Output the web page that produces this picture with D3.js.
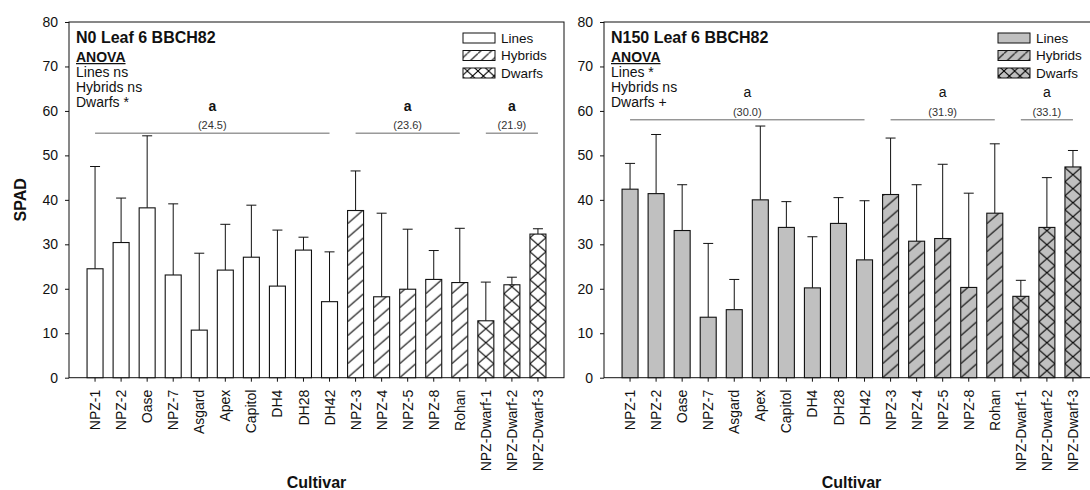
<!DOCTYPE html>
<html>
<head>
<meta charset="utf-8">
<script src="https://cdn.jsdelivr.net/npm/d3@7"></script>
<style>
  body { margin: 0; background: #fff; }
  svg { display: block; font-family: Arial, "Liberation Sans", sans-serif; }
</style>
</head>
<body>
<svg id="chart" width="1090" height="490"></svg>
<script>
// ---- data ----
const cultivars = ['NPZ-1', 'NPZ-2', 'Oase', 'NPZ-7', 'Asgard', 'Apex', 'Capitol', 'DH4', 'DH28', 'DH42',
                   'NPZ-3', 'NPZ-4', 'NPZ-5', 'NPZ-8', 'Rohan',
                   'NPZ-Dwarf-1', 'NPZ-Dwarf-2', 'NPZ-Dwarf-3'];
const cultivarType = ['Lines', 'Lines', 'Lines', 'Lines', 'Lines', 'Lines', 'Lines', 'Lines', 'Lines', 'Lines',
                      'Hybrids', 'Hybrids', 'Hybrids', 'Hybrids', 'Hybrids',
                      'Dwarfs', 'Dwarfs', 'Dwarfs'];
const groupNames = ['Lines', 'Hybrids', 'Dwarfs'];

// SPAD means and standard deviations, N0
const n0Mean = [24.5, 30.4, 38.2, 23.1, 10.7, 24.2, 27.1, 20.6, 28.7, 17.1,
                37.6, 18.2, 19.9, 22.1, 21.4,
                12.8, 20.9, 32.3];
const n0SD   = [23.0, 10.0, 16.2, 16.0, 17.3, 10.3, 11.7, 12.6, 2.9, 11.2,
                8.9, 18.8, 13.5, 6.5, 12.2,
                8.7, 1.7, 1.2];

// SPAD means and standard deviations, N150
const n150Mean = [42.4, 41.4, 33.1, 13.6, 15.3, 40.0, 33.8, 20.2, 34.7, 26.5,
                  41.2, 30.7, 31.3, 20.3, 37.0,
                  18.3, 33.8, 47.4];
const n150SD   = [5.8, 13.3, 10.3, 16.6, 6.8, 16.6, 5.8, 11.5, 5.8, 13.3,
                  12.7, 12.7, 16.7, 21.2, 15.6,
                  3.6, 11.2, 3.7];

const n0GroupMeans   = ['(24.5)', '(23.6)', '(21.9)'];
const n150GroupMeans = ['(30.0)', '(31.9)', '(33.1)'];
const n0Letters   = ['a', 'a', 'a'];
const n150Letters = ['a', 'a', 'a'];
const n0Anova   = ['Lines ns', 'Hybrids ns', 'Dwarfs *'];
const n150Anova = ['Lines *', 'Hybrids ns', 'Dwarfs +'];
const yTicks = [0, 10, 20, 30, 40, 50, 60, 70, 80];

// ---- layout ----
const W = 495, TOP = 22, H = 355.7;
const svg = d3.select('#chart');
const defs = svg.append('defs');

const panels = [
  { x0: 69,  title: 'N0 Leaf 6 BBCH82',   means: n0Mean,   sd: n0SD,   groupMeans: n0GroupMeans,
    letters: n0Letters, anova: n0Anova, fill: '#ffffff', letterWeight: 'bold', sigLine: 55.0, yTitle: true },
  { x0: 604, title: 'N150 Leaf 6 BBCH82', means: n150Mean, sd: n150SD, groupMeans: n150GroupMeans,
    letters: n150Letters, anova: n150Anova, fill: '#c0c0c0', letterWeight: 'normal', sigLine: 58.0, yTitle: false }
];

// hatch tile: one diagonal per tile width ("/"), two for the cross-hatch
function makePattern(id, x, y, w, h, fill, type) {
  const p = defs.append('pattern')
    .attr('id', id)
    .attr('patternUnits', 'userSpaceOnUse')
    .attr('x', x).attr('y', y)
    .attr('width', w).attr('height', h);
  p.append('rect').attr('width', w).attr('height', h).attr('fill', fill);
  let d = '';
  if (type === 'Hybrids' || type === 'Dwarfs') d += `M0,${h} L${w},0`;
  if (type === 'Dwarfs') d += ` M0,0 L${w},${h}`;
  if (d) p.append('path').attr('d', d).attr('stroke', '#000').attr('stroke-width', 1.05).attr('fill', 'none');
  return `url(#${id})`;
}

panels.forEach((pn, pi) => {
  const g = svg.append('g').attr('transform', `translate(${pn.x0},${TOP})`);

  const x = d3.scaleBand().domain(cultivars).range([0, W])
    .paddingInner(0.386).paddingOuter(0.693);
  const y = d3.scaleLinear().domain([0, 80]).range([H, 0]);
  const bw = x.bandwidth();

  // frame
  g.append('rect').attr('x', 0).attr('y', 0).attr('width', W).attr('height', H)
    .attr('fill', 'none').attr('stroke', '#111').attr('stroke-width', 1);

  // y axis
  const ya = g.append('g').call(d3.axisLeft(y).tickValues(yTicks).tickSize(4).tickSizeOuter(0).tickPadding(7));
  ya.select('.domain').remove();
  ya.selectAll('line').attr('stroke', '#111');
  ya.selectAll('text').attr('font-size', 14).attr('fill', '#111')
    .attr('font-family', 'Arial, "Liberation Sans", sans-serif');

  // x axis with vertical cultivar names
  const xa = g.append('g').attr('transform', `translate(0,${H})`)
    .call(d3.axisBottom(x).tickSize(4).tickSizeOuter(0).tickPadding(0));
  xa.select('.domain').remove();
  xa.selectAll('line').attr('stroke', '#111');
  xa.selectAll('text')
    .attr('font-size', 14).attr('fill', '#111')
    .attr('font-family', 'Arial, "Liberation Sans", sans-serif')
    .attr('text-anchor', 'end')
    .attr('transform', 'rotate(-90)')
    .attr('x', -12).attr('y', 0).attr('dy', '0.36em');

  // error bars (upper only)
  const err = g.append('g').attr('stroke', '#111').attr('stroke-width', 1);
  cultivars.forEach((c, i) => {
    const cx = x(c) + bw / 2;
    const top = y(pn.means[i] + pn.sd[i]);
    err.append('line').attr('x1', cx).attr('x2', cx).attr('y1', y(pn.means[i])).attr('y2', top);
    err.append('line').attr('x1', cx - 5).attr('x2', cx + 5).attr('y1', top).attr('y2', top);
  });

  // bars
  g.append('g').selectAll('rect').data(cultivars).join('rect')
    .attr('x', c => x(c))
    .attr('y', (c, i) => y(pn.means[i]))
    .attr('width', bw)
    .attr('height', (c, i) => y(0) - y(pn.means[i]))
    .attr('fill', (c, i) => makePattern(`bar-${pi}-${i}`, x(c), y(0), bw, 14, pn.fill, cultivarType[i]))
    .attr('stroke', '#111').attr('stroke-width', 1.1);

  // group separation lines with letters and group means
  const sy = y(pn.sigLine);
  groupNames.forEach((gname, gi) => {
    const members = cultivars.filter((c, i) => cultivarType[i] === gname);
    const x1 = x(members[0]) + bw / 2;
    const x2 = x(members[members.length - 1]) + bw / 2;
    const mx = (x1 + x2) / 2;
    g.append('line').attr('x1', x1).attr('x2', x2).attr('y1', sy).attr('y2', sy)
      .attr('stroke', '#666').attr('stroke-width', 1);
    g.append('text').attr('x', mx).attr('y', sy - 3.7).attr('text-anchor', 'middle')
      .attr('font-size', 11).attr('fill', '#333').text(pn.groupMeans[gi]);
    g.append('text').attr('x', mx).attr('y', sy - 22.5).attr('text-anchor', 'middle')
      .attr('font-size', 14).attr('font-weight', pn.letterWeight).attr('fill', '#111').text(pn.letters[gi]);
  });

  // panel title and ANOVA summary
  g.append('text').attr('x', 7).attr('y', 42.5 - TOP).attr('font-size', 16).attr('font-weight', 'bold')
    .attr('fill', '#111').text(pn.title);
  const an = g.append('text').attr('x', 7).attr('y', 61.5 - TOP).attr('font-size', 14).attr('font-weight', 'bold')
    .attr('fill', '#111').text('ANOVA');
  const anW = an.node().getComputedTextLength();
  g.append('line').attr('x1', 7).attr('x2', 7 + anW).attr('y1', 63.6 - TOP).attr('y2', 63.6 - TOP)
    .attr('stroke', '#111').attr('stroke-width', 1.4);
  [77, 92, 107].forEach((by, k) => {
    g.append('text').attr('x', 7).attr('y', by - TOP).attr('font-size', 14).attr('fill', '#111').text(pn.anova[k]);
  });

  // legend
  const lg = g.append('g').attr('transform', `translate(394,${33 - TOP})`);
  groupNames.forEach((gname, k) => {
    const ly = k * 17.5;
    lg.append('rect').attr('x', 0).attr('y', ly).attr('width', 32).attr('height', 10)
      .attr('fill', makePattern(`leg-${pi}-${k}`, pn.x0 + 394, TOP + 33 - TOP + ly, 32 / 3, 10, pn.fill, gname))
      .attr('stroke', '#111').attr('stroke-width', 1);
    lg.append('text').attr('x', 38).attr('y', ly + 9.6).attr('font-size', 13.5).attr('fill', '#111').text(gname);
  });

  // axis titles
  g.append('text').attr('x', W / 2).attr('y', 488 - TOP).attr('text-anchor', 'middle')
    .attr('font-size', 16).attr('font-weight', 'bold').attr('fill', '#111').text('Cultivar');
  if (pn.yTitle) {
    g.append('text').attr('transform', `translate(${20 - pn.x0},${H / 2}) rotate(-90)`)
      .attr('text-anchor', 'middle').attr('dy', '0.36em')
      .attr('font-size', 16).attr('font-weight', 'bold').attr('fill', '#111').text('SPAD');
  }
});
</script>
</body>
</html>
